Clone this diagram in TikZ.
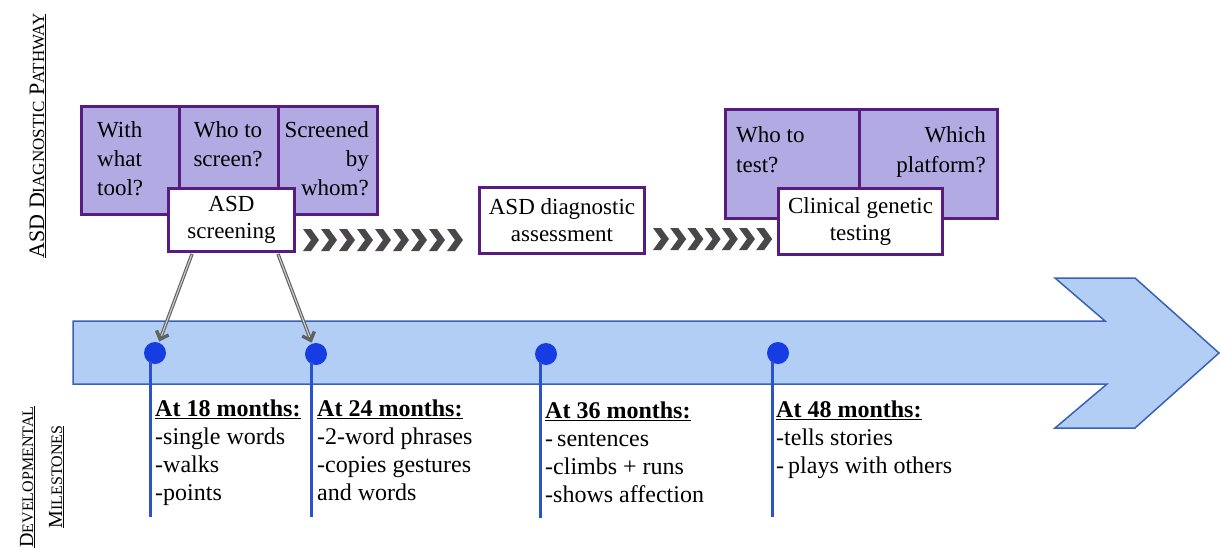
\documentclass[tikz,border=0pt]{standalone}
\usepackage{fontspec}
\setmainfont{Liberation Serif}
\usetikzlibrary{arrows.meta,calc}
\definecolor{pfill}{RGB}{178,170,226}
\definecolor{pdraw}{RGB}{88,28,128}
\definecolor{afill}{RGB}{178,206,244}
\definecolor{adraw}{RGB}{58,98,180}
\definecolor{dotc}{RGB}{22,60,228}
\definecolor{linec}{RGB}{42,82,204}
\definecolor{chev}{RGB}{74,70,76}
\begin{document}
\begin{tikzpicture}[x=1pt,y=-1pt,
  pbox/.style={draw=pdraw, fill=pfill, line width=3pt, inner sep=0, anchor=north west},
  wbox/.style={draw=pdraw, fill=white, line width=3pt, inner sep=0, anchor=north west, align=center, font=\fontsize{23}{27}\selectfont},
  ptext/.style={inner sep=0, font=\fontsize{23}{29}\selectfont},
  mtext/.style={inner sep=0, anchor=base west, align=left, font=\fontsize{24}{28}\selectfont},
  dot/.style={circle, fill=dotc, minimum size=22pt, inner sep=0},
  vline/.style={draw=linec, line width=3pt},
  garrow/.style={draw=black!62, line width=3.4pt, shorten >=1pt, -{Straight Barb[length=7pt,width=13pt]},
     postaction={draw=black!18, line width=1.1pt, -, shorten >=7pt, shorten <=1pt}},
  chevron/.pic={\fill[chev] (0,-11) -- (8,-11) -- (16,0) -- (8,11) -- (0,11) -- (8,0) -- cycle;},
  sidelab/.style={rotate=90, inner sep=0, anchor=base}
]
\useasboundingbox (0,0) rectangle (1220,555);

% side labels
\node[sidelab] (lab1) at (44,136) {\underline{\fontsize{22}{26}\selectfont ASD D{\fontsize{17}{20}\selectfont IAGNOSTIC} P{\fontsize{17}{20}\selectfont ATHWAY}}};
\node[sidelab] (lab2) at (33,477) {\underline{\fontsize{20}{24}\selectfont D{\fontsize{16}{20}\selectfont EVELOPMENTAL}}};
\node[sidelab] (lab3) at (62,477) {\underline{\fontsize{20}{24}\selectfont M{\fontsize{16}{20}\selectfont ILESTONES}}};

% timeline arrow
\draw[draw=adraw, fill=afill, line width=1.5pt, line join=miter]
  (73,321) -- (1105,321) -- (1055,278) -- (1135,278) -- (1219,353) -- (1135,428) -- (1055,428) -- (1107,384) -- (73,384) -- cycle;

% purple question boxes (left)
\node[pbox, minimum width=98pt, minimum height=108pt] (q1) at (80,105) {};
\node[pbox, minimum width=99pt, minimum height=108pt] (q2) at (178,105) {};
\node[pbox, minimum width=99pt, minimum height=108pt] (q3) at (277,105) {};
\node[ptext, anchor=base west, align=left] (q1t) at (97,195) {With\\what\\tool?};
\node[ptext, anchor=base, align=center] (q2t) at (228,166) {Who to\\screen?};
\node[ptext, anchor=base east, align=right] (q3t) at (369,195) {Screened\\by\\whom?};

% purple question boxes (right)
\node[pbox, minimum width=134pt, minimum height=109pt] (q4) at (724,108) {};
\node[pbox, minimum width=138pt, minimum height=109pt] (q5) at (858,108) {};
\node[ptext, anchor=base west, align=left, font=\fontsize{23}{30}\selectfont] (q4t) at (736,172) {Who to\\test?};
\node[ptext, anchor=base east, align=right, font=\fontsize{23}{30}\selectfont] (q5t) at (986,172) {Which\\platform?};

% pathway steps
\node[wbox, minimum width=126pt, minimum height=63pt] (scr) at (167,187) {ASD\\screening};
\node[wbox, minimum width=165pt, minimum height=66pt] (asm) at (478,186) {ASD diagnostic\\assessment};
\node[wbox, minimum width=164pt, minimum height=66pt] (gen) at (777,187) {Clinical genetic\\testing};

% chevrons
\foreach \i in {0,...,8} \pic at (303+18*\i,240) {chevron};
\foreach \i in {0,...,6} \pic at (653+17.2*\i,239) {chevron};

% milestone dots and lines
\node[dot] (d18) at (155,353) {};
\node[dot] (d24) at (316,354) {};
\node[dot] (d36) at (546,354) {};
\node[dot] (d48) at (778,353) {};
\coordinate (e18) at (150,517);
\coordinate (e24) at (311,517);
\coordinate (e36) at (540,518);
\coordinate (e48) at (772,517);
\foreach \d/\e in {d18/e18,d24/e24,d36/e36,d48/e48}
  \draw[vline] ($(\d.south -| \e)+(0,-3)$) -- (\e);

% screening arrows
\draw[garrow] ($(scr.south west)+(25,1)$) -- (d18);
\draw[garrow] ($(scr.south east)+(-18,1)$) -- (d24);

% milestone texts
\node[mtext] (m18) at (155,500) {\textbf{\underline{At 18 months:}}\\-single words\\-walks\\-points};
\node[mtext] (m24) at (317,500) {\textbf{\underline{At 24 months:}}\\-2-word phrases\\-copies gestures\\and words};
\node[mtext] (m36) at (545,502) {\textbf{\underline{At 36 months:}}\\-\,sentences\\-climbs + runs\\-shows affection};
\node[mtext] (m48) at (776,473) {\textbf{\underline{At 48 months:}}\\-tells stories\\-\,plays with others};
\end{tikzpicture}
\end{document}
